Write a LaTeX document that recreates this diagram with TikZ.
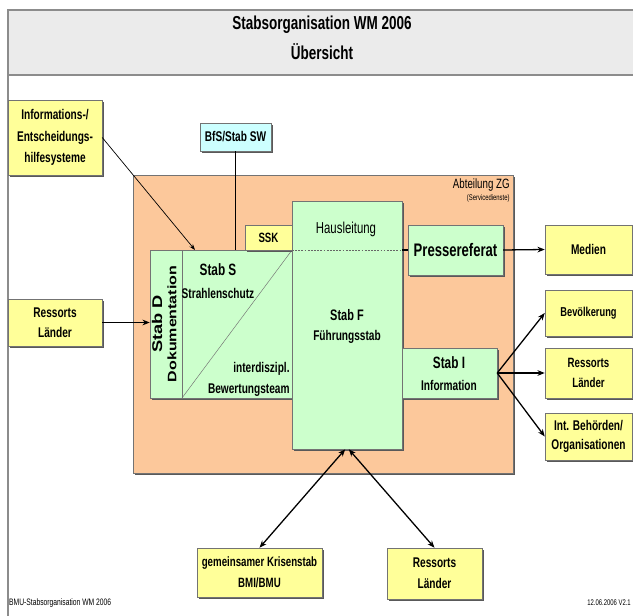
\documentclass[tikz,border=0pt]{standalone}
\usepackage{fontspec}
\setmainfont{Liberation Sans}[FakeStretch=0.72]
\newfontfamily\widefont{Liberation Sans}[FakeStretch=1.3]
\usepackage{tikz}
\usetikzlibrary{positioning,arrows.meta,shadows}
\usepackage{xcolor}

\definecolor{boxyellow}{RGB}{255,255,153}
\definecolor{boxgreen}{RGB}{204,255,204}
\definecolor{boxcyan}{RGB}{204,255,255}
\definecolor{zgorange}{RGB}{252,200,155}
\definecolor{headgray}{RGB}{235,235,235}
\newcommand{\fsz}[2]{\fontsize{#1}{#2}\selectfont}

\begin{document}
\begin{tikzpicture}[x=0.03cm,y=-0.03cm,>={Stealth[length=2.2mm,width=1.7mm]},
  box/.style={draw=black!55,inner sep=0pt,align=center,
    drop shadow={shadow xshift=1.4pt,shadow yshift=-1.4pt,fill=black!65,opacity=1}},
  sz/.style 2 args={minimum width=#1*0.03cm,minimum height=#2*0.03cm},
  ybox/.style={box,fill=boxyellow},
  gbox/.style={box,fill=boxgreen},
  link/.style={->,line width=1.1pt},
  dlink/.style={<->,line width=1.1pt}]
\useasboundingbox (0,0) rectangle (633,616);

% header
\fill[headgray] (8,10) rectangle (633,75);
\draw[black!45,line width=1pt] (633,10) -- (8,10) -- (8,616);
\draw[black!45,line width=1pt] (8,75) -- (633,75);
\node[font=\bfseries\fsz{16}{25.5},align=center] (title) at (322,38) {Stabsorganisation WM 2006\\Übersicht};

% Abteilung ZG
\node[box,fill=zgorange,sz={380}{298}] (abt) at (323,324) {};
\node[anchor=north east,inner sep=1pt,font=\fsz{11.5}{13}] (abtname) at (511,177) {Abteilung ZG};
\node[below=1pt of abtname.south east,anchor=north east,inner sep=1pt,font=\fsz{7}{8}] (abtsub) {(Servicedienste)};

% left side
\node[ybox,sz={94}{75},font=\bfseries\fsz{12}{18.3}] (info) at (55,137.5) {Informations-/\\Entscheidungs-\\hilfesysteme};
\node[box,fill=boxcyan,sz={71}{28},font=\bfseries\fsz{12}{14}] (bfs) at (235.5,137) {BfS/Stab SW};
\node[ybox,sz={94}{47},font=\bfseries\fsz{12}{17}] (ressL) at (55,322.5) {Ressorts\\Länder};

% Stab D / Stab S
\node[gbox,sz={142}{148}] (stabS) at (221,324) {};
\draw[black!55] (182,250) -- (182,398);
\draw[black!55] (182,398) -- (stabS.north east);
\node[rotate=90,font=\widefont\bfseries\fsz{12}{14}] (stabDtxt) at (157,324) {Stab D};
\node[rotate=90,font=\widefont\bfseries\fsz{10.5}{12}] (doktxt) at (172,324) {Dokumentation};
\node[font=\bfseries\fsz{14}{16}] (stabStxt) at (218,270) {Stab S};
\node[font=\bfseries\fsz{12}{14}] (strtxt) at (218,293) {Strahlenschutz};
\node[anchor=east,inner sep=1pt,font=\bfseries\fsz{12}{14}] (intertxt) at (291,369) {interdiszipl.};
\node[anchor=east,inner sep=1pt,font=\bfseries\fsz{12}{14}] (bewtxt) at (291,390) {Bewertungsteam};
\node[ybox,sz={47}{25},font=\bfseries\fsz{11.5}{13}] (ssk) at (268.5,237.5) {SSK};

% Stab F
\node[gbox,sz={110}{248}] (stabF) at (347,325) {};
\coordinate (hlW) at (292,250);
\coordinate (hlE) at (402,250);
\draw[black!60,dash pattern=on 1.5pt off 1.2pt] (hlW) -- (hlE);
\node[font=\fsz{13.5}{15}] (haustxt) at (346,229) {Hausleitung};
\node[font=\bfseries\fsz{13}{15}] (stabFtxt) at (347,315) {Stab F};
\node[font=\bfseries\fsz{12}{14}] (fuehrtxt) at (347,337) {Führungsstab};

\node[gbox,sz={95}{50},font=\bfseries\fsz{15.5}{17}] (presse) at (455.5,250) {Pressereferat};
\node[gbox,sz={95}{50}] (stabI) at (449.5,373) {};
\node[font=\bfseries\fsz{14}{16}] (stabItxt) at (449,363) {Stab I};
\node[font=\bfseries\fsz{12}{14}] (infotxt) at (449,385) {Information};

% right side
\node[ybox,sz={87}{49},font=\bfseries\fsz{12}{14}] (medien) at (588.5,249.5) {Medien};
\node[ybox,sz={87}{46},font=\bfseries\fsz{11}{13}] (bev) at (588.5,313) {Bevölkerung};
\node[ybox,sz={87}{50},font=\bfseries\fsz{11.5}{17}] (ressR) at (588.5,373) {Ressorts\\Länder};
\node[ybox,sz={87}{47},font=\bfseries\fsz{12}{16.5}] (intB) at (588.5,436.5) {Int. Behörden/\\Organisationen};

% bottom
\node[ybox,sz={125}{49},font=\bfseries\fsz{11.5}{18}] (krise) at (259.5,572.5) {gemeinsamer Krisenstab\\BMI/BMU};
\node[ybox,sz={95}{51},font=\bfseries\fsz{12}{18}] (ressB) at (434.5,573.5) {Ressorts\\Länder};

% connectors
\coordinate (sIn) at (195,250);
\draw[->,line width=0.6pt,>={Stealth[length=1.8mm,width=1.3mm]}] (info.east) -- (sIn);
\draw[line width=0.9pt] (bfs.south) -- (bfs.south |- stabS.north);
\draw[link] (ressL.east) -- (ressL.east -| stabS.west);
\draw[line width=0.9pt] (hlE) -- (presse.west);
\draw[link] (presse.east) -- (medien.west);
\draw[link] (stabI.east) -- (bev.west);
\draw[link] (stabI.east) -- (ressR.west);
\draw[link] (stabI.east) -- (intB.west);
\draw[dlink] ([xshift=-1.5pt]stabF.south) -- (krise.north);
\draw[dlink] ([xshift=1.5pt]stabF.south) -- (ressB.north);

% footer
\node[anchor=west,inner sep=0pt,font=\fsz{8}{9}] (foot) at (9,603) {BMU-Stabsorganisation WM 2006};
\node[anchor=east,inner sep=0pt,font=\fsz{7}{8}] (stand) at (631,603) {12.06.2006 V2.1};
\end{tikzpicture}
\end{document}
